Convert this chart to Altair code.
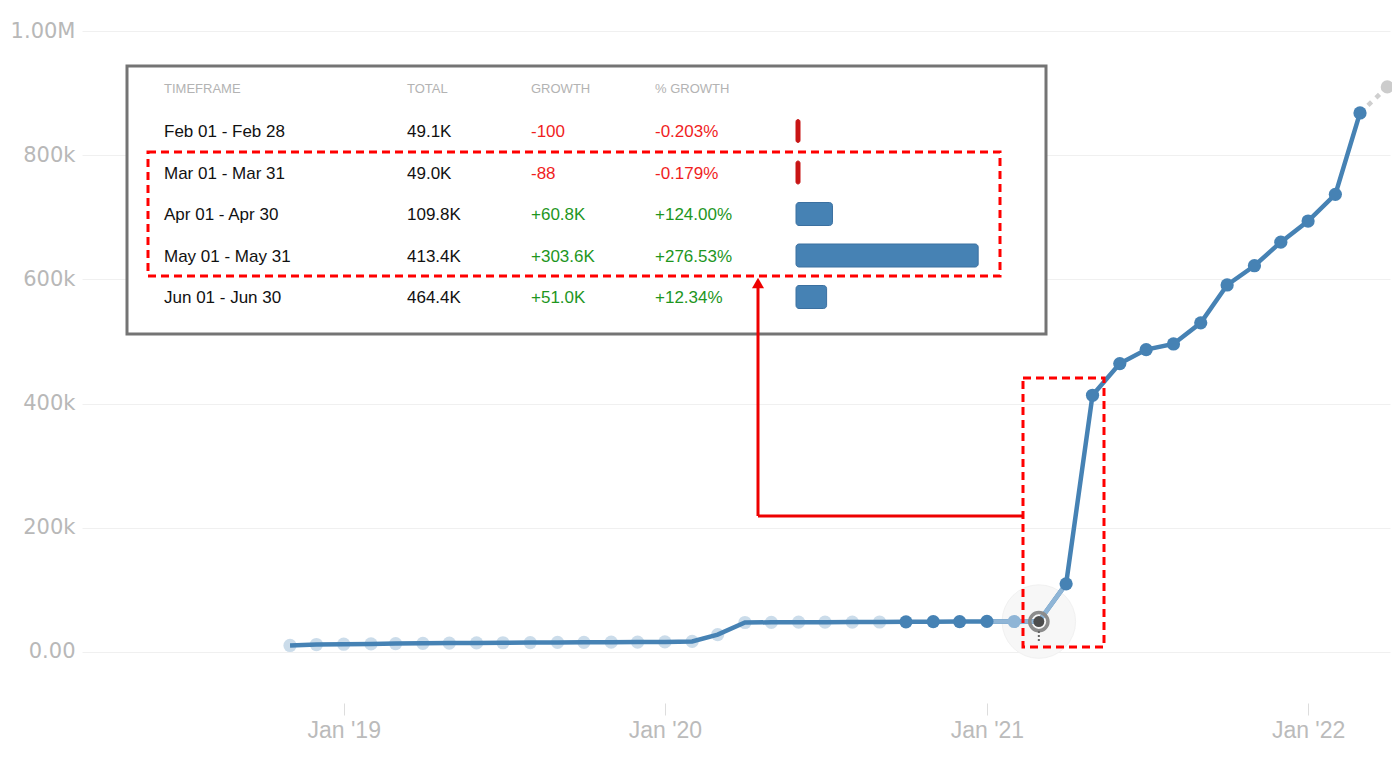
import altair as alt
import pandas as pd

# ---------------- main series (monthly totals) ----------------
months = [
    "2018-11-01", "2018-12-01", "2019-01-01", "2019-02-01", "2019-03-01", "2019-04-01",
    "2019-05-01", "2019-06-01", "2019-07-01", "2019-08-01", "2019-09-01", "2019-10-01",
    "2019-11-01", "2019-12-01", "2020-01-01", "2020-02-01", "2020-03-01", "2020-04-01",
    "2020-05-01", "2020-06-01", "2020-07-01", "2020-08-01", "2020-09-01", "2020-10-01",
    "2020-11-01", "2020-12-01", "2021-01-01", "2021-02-01", "2021-03-01", "2021-04-01",
    "2021-05-01", "2021-06-01", "2021-07-01", "2021-08-01", "2021-09-01", "2021-10-01",
    "2021-11-01", "2021-12-01", "2022-01-01", "2022-02-01", "2022-03-01", "2022-04-01",
]
totals = [
    10500, 12000, 12500, 13000, 13500, 14000,
    14300, 14600, 14900, 15200, 15400, 15600,
    15800, 16000, 16300, 17000, 28000, 47500,
    47800, 48000, 48100, 48200, 48300, 48600,
    48900, 49000, 49200, 49100, 49000, 109800,
    413400, 464400, 487000, 496000, 530000, 591000,
    622000, 660000, 694000, 737000, 868000, 910000,
]
states = (["faded"] * 23 + ["normal"] * 4 + ["light", "highlight"]
          + ["normal"] * 12 + ["future"])

# ---------------- table ----------------
headers = ["TIMEFRAME", "TOTAL", "GROWTH", "% GROWTH"]
timeframes = ["Feb 01 - Feb 28", "Mar 01 - Mar 31", "Apr 01 - Apr 30",
              "May 01 - May 31", "Jun 01 - Jun 30"]
table_totals = ["49.1K", "49.0K", "109.8K", "413.4K", "464.4K"]
growth_labels = ["-100", "-88", "+60.8K", "+303.6K", "+51.0K"]
pct_labels = ["-0.203%", "-0.179%", "+124.00%", "+276.53%", "+12.34%"]
growth_k = [-0.100, -0.088, 60.8, 303.6, 51.0]

y_ticks = [0, 200000, 400000, 600000, 800000, 1000000]
x_tick_years = [2019, 2020, 2021, 2022]

df = pd.DataFrame({"month": months, "total": totals, "state": states,
                   "idx": list(range(len(months)))})
tdf = pd.DataFrame({"timeframe": timeframes, "tot": table_totals,
                    "growth": growth_labels, "pct": pct_labels,
                    "growth_k": growth_k, "row": list(range(len(timeframes)))})
one = pd.DataFrame({"k": [0]})

BLUE = "#4682b4"
LIGHT = "#8fb5d6"
RED = "#ff0000"

X = alt.X(
    "month:T",
    scale=alt.Scale(type="utc", domain=[
        alt.DateTime(year=2018, month=3, date=9, hours=14, utc=True),
        alt.DateTime(year=2022, month=4, date=4, hours=2, utc=True)]),
    axis=alt.Axis(
        values=[alt.DateTime(year=y, month=1, date=1, utc=True) for y in x_tick_years],
        format="%b '%y", title=None, grid=False, domain=False,
        tickColor="#dddddd", tickSize=12, tickWidth=1,
        labelFont="Liberation Sans", labelFontSize=23, labelColor="#bbbbbb",
        labelPadding=4, labelFlush=False),
)
Y = alt.Y(
    "total:Q",
    scale=alt.Scale(domain=[-82126, 1000000], nice=False, zero=False),
    axis=alt.Axis(
        values=y_ticks, title=None, domain=False, ticks=False, tickSize=0,
        labelExpr="datum.value == 0 ? '0.00' : datum.value >= 1000000 ? '1.00M' : format(datum.value / 1000, 'd') + 'k'",
        labelFont="DejaVu Sans", labelFontSize=21, labelColor="#b8b8b8",
        labelPadding=7, grid=True, gridColor="#f0f0f0", gridWidth=1),
)

base = alt.Chart(df).encode(x=X, y=Y)
is_hl = "datum.state == 'highlight'"

halo = base.mark_circle(size=5400, color="#f7f7f7", opacity=1,
                        stroke="#f1f1f1", strokeWidth=1).transform_filter(is_hl)
faded = base.mark_circle(size=175, color=BLUE, opacity=0.28).transform_filter(
    "datum.state == 'faded'")
line_main = base.mark_line(color=BLUE, strokeWidth=4.5).transform_filter("datum.idx <= 40")
line_light = base.mark_line(color=LIGHT, strokeWidth=4.5).transform_filter(
    "datum.idx >= 26 && datum.idx <= 29")
line_future = base.mark_line(color="#cfcfcf", strokeWidth=4.5,
                             strokeDash=[5, 6]).transform_filter("datum.idx >= 40")
dark = base.mark_circle(size=175, color=BLUE, opacity=1).transform_filter(
    "datum.state == 'normal'")
light_pt = base.mark_circle(size=175, color=LIGHT, opacity=1).transform_filter(
    "datum.state == 'light'")
ring = base.mark_point(size=330, shape="circle", filled=False, color="#8c8c8c",
                       strokeWidth=3.5, opacity=1).transform_filter(is_hl)
hdot = base.mark_circle(size=120, color="#4d4d4d", opacity=1).transform_filter(is_hl)
htick = alt.Chart(df).mark_rule(color="#666666", strokeWidth=2, strokeDash=[2, 2]).encode(
    x=X, y=alt.value(600), y2=alt.value(611)).transform_filter(is_hl)
future_pt = base.mark_circle(size=175, color="#cccccc", opacity=1).transform_filter(
    "datum.state == 'future'")

# ---------------- table layers ----------------
box = alt.Chart(one).mark_rect(fill="white", stroke="#747474", strokeWidth=3).encode(
    x=alt.value(45), x2=alt.value(964), y=alt.value(35), y2=alt.value(303))

col_x = [82, 325, 449, 573]
header_layers = []
for label, cx in zip(headers, col_x):
    header_layers.append(
        alt.Chart(one).mark_text(text=label, align="left", baseline="alphabetic",
                                 font="Liberation Sans", fontSize=13, color="#b3b3b3")
        .encode(x=alt.value(cx), y=alt.value(62)))

tbase = alt.Chart(tdf).transform_calculate(ty="106 + datum.row * 41.5")
sign_color = alt.condition("datum.growth_k < 0", alt.value("#f01e1e"), alt.value("#1e961e"))
col_timeframe = tbase.mark_text(align="left", baseline="alphabetic", font="Liberation Sans",
                                fontSize=17, color="#111111").encode(
    x=alt.value(col_x[0]), y=alt.Y("ty:Q", scale=None), text="timeframe:N")
col_total = tbase.mark_text(align="left", baseline="alphabetic", font="Liberation Sans",
                            fontSize=17, color="#111111").encode(
    x=alt.value(col_x[1]), y=alt.Y("ty:Q", scale=None), text="tot:N")
col_growth = tbase.mark_text(align="left", baseline="alphabetic", font="Liberation Sans",
                             fontSize=17).encode(
    x=alt.value(col_x[2]), y=alt.Y("ty:Q", scale=None), text="growth:N", color=sign_color)
col_pct = tbase.mark_text(align="left", baseline="alphabetic", font="Liberation Sans",
                          fontSize=17).encode(
    x=alt.value(col_x[3]), y=alt.Y("ty:Q", scale=None), text="pct:N", color=sign_color)

bars = alt.Chart(tdf).transform_calculate(
    bx1="714",
    bx2="714 + max(datum.growth_k * 0.6, 4)",
    by1="100 + datum.row * 41.5 - 11.5",
    by2="100 + datum.row * 41.5 + 11.5",
).mark_rect(cornerRadius=3, strokeWidth=1).encode(
    x=alt.X("bx1:Q", scale=None), x2="bx2:Q",
    y=alt.Y("by1:Q", scale=None), y2="by2:Q",
    fill=alt.condition("datum.growth_k < 0", alt.value("#c81515"), alt.value(BLUE)),
    stroke=alt.condition("datum.growth_k < 0", alt.value("#c81515"), alt.value("#3b70a0")),
)

# ---------------- annotations ----------------
rect1 = alt.Chart(one).mark_rect(fillOpacity=0, stroke=RED, strokeWidth=3,
                                 strokeDash=[8, 5]).encode(
    x=alt.value(66), x2=alt.value(918), y=alt.value(121), y2=alt.value(245))
rect2 = alt.Chart(one).mark_rect(fillOpacity=0, stroke=RED, strokeWidth=3,
                                 strokeDash=[8, 5]).encode(
    x=alt.value(941), x2=alt.value(1022), y=alt.value(347), y2=alt.value(616))
arrow_h = alt.Chart(one).mark_rule(color="#ee0000", strokeWidth=3).encode(
    x=alt.value(676), x2=alt.value(941), y=alt.value(485))
arrow_v = alt.Chart(one).mark_rule(color="#ee0000", strokeWidth=3).encode(
    x=alt.value(676), y=alt.value(256), y2=alt.value(485))
arrow_head = alt.Chart(one).mark_point(shape="triangle-up", filled=True, size=144,
                                       color="#ee0000", opacity=1).encode(
    x=alt.value(676), y=alt.value(252))

chart = alt.layer(
    halo, faded, line_main, line_light, line_future, dark, light_pt, ring, hdot,
    htick, future_pt, box, *header_layers, col_timeframe, col_total, col_growth,
    col_pct, bars, rect1, rect2, arrow_h, arrow_v, arrow_head,
).properties(
    width=1308, height=672,
    autosize=alt.AutoSizeParams(type="none"),
    padding={"left": 74, "top": 23, "right": 2, "bottom": 47},
    background="white",
).configure_view(strokeWidth=0)

chart.save("out.html", embed_options={"renderer": "svg", "actions": False})
